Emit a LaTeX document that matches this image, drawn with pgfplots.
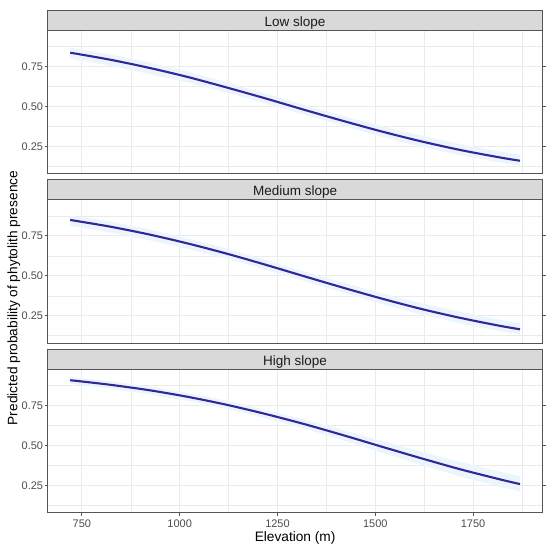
\documentclass[border=0pt]{standalone}
\usepackage{pgfplots}
\usepackage{pgfplotstable}
\usepackage{fontspec}
\setmainfont{Liberation Sans}
\pgfplotsset{compat=1.18}

\definecolor{gray92}{HTML}{EBEBEB}
\definecolor{gray85}{HTML}{D9D9D9}
\definecolor{bordergray}{HTML}{555555}
\definecolor{gray30}{HTML}{4D4D4D}
\definecolor{gray10}{HTML}{1A1A1A}
\definecolor{fitline}{RGB}{52,38,152}
\definecolor{ribbon}{RGB}{235,245,252}

% fitted line
\pgfplotstableread{
x p
720 0.836
820 0.793
920 0.742
1020 0.684
1120 0.618
1220 0.549
1320 0.477
1420 0.407
1520 0.340
1620 0.279
1720 0.225
1820 0.179
1870 0.159
}\lowtab
% ribbon: upper bound forward, lower bound backward
\pgfplotstableread{
x y
720 0.867
820 0.827
920 0.776
1020 0.718
1120 0.650
1220 0.580
1320 0.507
1420 0.438
1520 0.373
1620 0.315
1720 0.262
1820 0.216
1870 0.196
1870 0.128
1820 0.148
1720 0.192
1620 0.245
1520 0.307
1420 0.376
1320 0.447
1220 0.518
1120 0.586
1020 0.650
920 0.704
820 0.755
720 0.799
}\lowrib

\pgfplotstableread{
x p
720 0.850
820 0.809
920 0.760
1020 0.703
1120 0.639
1220 0.569
1320 0.496
1420 0.424
1520 0.355
1620 0.291
1720 0.235
1820 0.186
1870 0.165
}\medtab
\pgfplotstableread{
x y
720 0.879
820 0.841
920 0.792
1020 0.735
1120 0.671
1220 0.599
1320 0.526
1420 0.456
1520 0.389
1620 0.327
1720 0.273
1820 0.224
1870 0.202
1870 0.133
1820 0.153
1720 0.200
1620 0.256
1520 0.321
1420 0.393
1320 0.466
1220 0.539
1120 0.607
1020 0.669
920 0.724
820 0.773
720 0.813
}\medrib

\pgfplotstableread{
x p
720 0.908
820 0.880
920 0.846
1020 0.804
1120 0.754
1220 0.696
1320 0.632
1420 0.562
1520 0.489
1620 0.417
1720 0.348
1820 0.286
1870 0.257
}\hightab
\pgfplotstableread{
x y
720 0.927
820 0.902
920 0.869
1020 0.829
1120 0.779
1220 0.722
1320 0.660
1420 0.594
1520 0.526
1620 0.459
1720 0.394
1820 0.335
1870 0.306
1870 0.211
1820 0.240
1720 0.303
1620 0.375
1520 0.452
1420 0.530
1320 0.604
1220 0.670
1120 0.729
1020 0.779
920 0.821
820 0.855
720 0.885
}\highrib

\pgfplotsset{
  panel/.style={
    at={(47.7pt,#1)}, anchor=south west,
    scale only axis, width=494.8pt, height=143.5pt,
    xmin=662.5, xmax=1927.5, ymin=0.076, ymax=0.975,
    xtick={750,1000,1250,1500,1750},
    ytick={0.25,0.5,0.75},
    yticklabels={0.25,0.50,0.75},
    minor xtick={875,1125,1375,1625,1875},
    minor ytick={0.125,0.375,0.625,0.875},
    grid=both,
    major grid style={color=gray92, line width=0.9pt},
    minor grid style={color=gray92, line width=0.45pt},
    axis line style={bordergray, line width=1pt},
    tick style={bordergray, line width=0.9pt},
    major tick length=3pt, minor tick length=0pt,
    tick align=outside,
    yticklabel style={font=\fontsize{11}{11}\selectfont, text=gray30, inner sep=1.4pt},
    xticklabel style={font=\fontsize{11}{11}\selectfont, text=gray30, inner sep=4pt},
    /pgf/number format/assume math mode=true,
  },
  noxlab/.style={xticklabels={}, xtick style={draw=none}},
  withxlab/.style={xticklabels={750,1000,1250,1500,1750}},
}

\begin{document}
\begin{tikzpicture}

\begin{axis}[panel=377pt, noxlab]
\addplot[fill=ribbon, draw=none] table[x=x, y=y] {\lowrib};
\addplot[fitline, line width=2.1pt, smooth] table[x=x, y=p] {\lowtab};
\end{axis}

\begin{axis}[panel=207.5pt, noxlab]
\addplot[fill=ribbon, draw=none] table[x=x, y=y] {\medrib};
\addplot[fitline, line width=2.1pt, smooth] table[x=x, y=p] {\medtab};
\end{axis}

\begin{axis}[panel=38pt, withxlab]
\addplot[fill=ribbon, draw=none] table[x=x, y=y] {\highrib};
\addplot[fitline, line width=2.1pt, smooth] table[x=x, y=p] {\hightab};
\end{axis}

% strips
\draw[fill=gray85, draw=bordergray, line width=1pt] (47.7pt,520.5pt) rectangle (542.5pt,540.5pt);
\draw[fill=gray85, draw=bordergray, line width=1pt] (47.7pt,351pt) rectangle (542.5pt,371pt);
\draw[fill=gray85, draw=bordergray, line width=1pt] (47.7pt,181.5pt) rectangle (542.5pt,201.5pt);
\node[anchor=base, font=\fontsize{13.5}{14}\selectfont, text=gray10, inner sep=0pt] at (295.1pt,524.8pt) {Low slope};
\node[anchor=base, font=\fontsize{13.5}{14}\selectfont, text=gray10, inner sep=0pt] at (295.1pt,355.3pt) {Medium slope};
\node[anchor=base, font=\fontsize{13.5}{14}\selectfont, text=gray10, inner sep=0pt] at (295.1pt,185.8pt) {High slope};

% axis titles
\node[anchor=base, font=\fontsize{13.7}{14}\selectfont, text=black, inner sep=0pt] at (295.1pt,9.3pt) {Elevation (m)};
\node[rotate=90, anchor=base, font=\fontsize{13.7}{14}\selectfont, text=black, inner sep=0pt] at (17.3pt,253pt) {Predicted probability of phytolith presence};

% page frame
\path (0pt,0pt) rectangle (550pt,551pt);
\end{tikzpicture}
\end{document}
